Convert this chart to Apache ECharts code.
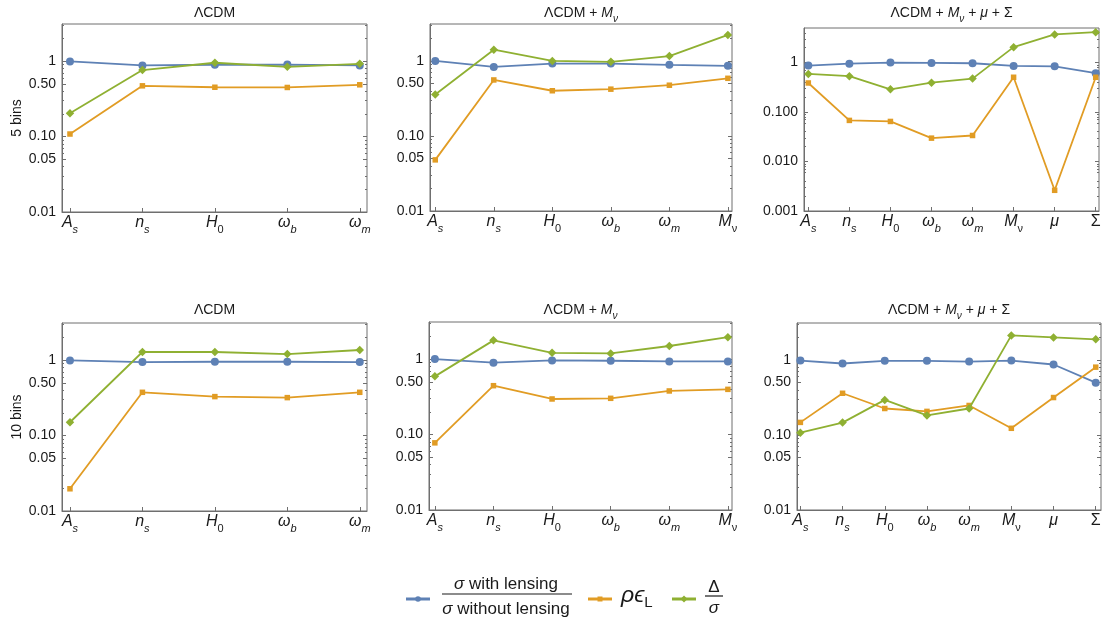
<!DOCTYPE html>
<html>
<head>
<meta charset="utf-8">
<script src="https://cdn.jsdelivr.net/npm/echarts@6/dist/echarts.min.js"></script>
<style>
  html, body { margin: 0; padding: 0; background: #ffffff; }
  #chart { width: 1107px; height: 624px; }
</style>
</head>
<body>
<div id="chart"></div>
<script>
// Parameters on the x axes of each model
const paramsLCDM = ['A_s', 'n_s', 'H_0', 'ω_b', 'ω_m'];
const paramsMnu  = ['A_s', 'n_s', 'H_0', 'ω_b', 'ω_m', 'M_ν'];
const paramsFull = ['A_s', 'n_s', 'H_0', 'ω_b', 'ω_m', 'M_ν', 'μ', 'Σ'];

// Y tick values and their printed labels
const yTicksTwoDec = [0.01, 0.05, 0.1, 0.5, 1];
const yTextTwoDec  = ['0.01', '0.05', '0.10', '0.50', '1'];
const yTicksThreeDec = [0.001, 0.01, 0.1, 1];
const yTextThreeDec  = ['0.001', '0.010', '0.100', '1'];

// 5 bins: sigma ratio (with / without lensing), rho*eps_L, Delta/sigma
const ratio5LCDM  = [0.99, 0.876, 0.894, 0.90, 0.876];
const rhoEps5LCDM = [0.108, 0.47, 0.45, 0.447, 0.485];
const delta5LCDM  = [0.204, 0.76, 0.95, 0.84, 0.92];

const ratio5Mnu  = [1.0, 0.83, 0.92, 0.92, 0.885, 0.86];
const rhoEps5Mnu = [0.048, 0.557, 0.40, 0.42, 0.474, 0.586];
const delta5Mnu  = [0.357, 1.41, 1.0, 0.97, 1.16, 2.22];

const ratio5Full  = [0.87, 0.95, 1.0, 0.985, 0.97, 0.855, 0.84, 0.61];
const rhoEps5Full = [0.387, 0.0678, 0.0646, 0.0297, 0.0336, 0.505, 0.00262, 0.505];
const delta5Full  = [0.589, 0.53, 0.288, 0.393, 0.474, 2.05, 3.70, 4.12];

// 10 bins
const ratio10LCDM  = [0.99, 0.94, 0.95, 0.95, 0.94];
const rhoEps10LCDM = [0.0197, 0.374, 0.328, 0.318, 0.374];
const delta10LCDM  = [0.15, 1.28, 1.28, 1.2, 1.36];

const ratio10Mnu  = [1.0, 0.895, 0.96, 0.95, 0.93, 0.93];
const rhoEps10Mnu = [0.0776, 0.444, 0.296, 0.302, 0.378, 0.397];
const delta10Mnu  = [0.59, 1.77, 1.21, 1.19, 1.49, 1.95];

const ratio10Full  = [0.98, 0.895, 0.97, 0.97, 0.95, 0.98, 0.868, 0.497];
const rhoEps10Full = [0.147, 0.359, 0.225, 0.206, 0.247, 0.1226, 0.315, 0.80];
const delta10Full  = [0.107, 0.146, 0.293, 0.182, 0.225, 2.12, 1.99, 1.88];

const rowNames = ['5 bins', '10 bins'];

// ---- styling ----
const FONT = '"Liberation Sans", Arial, sans-serif';
const BLUE = '#5E81B5', ORANGE = '#E19C24', GREEN = '#8FB032';
const FRAME = '#6f6f6f';
const TEXT = '#1a1a1a';

// rich-text markup for parameter names
const paramMarkup = {
  'A_s': '{i|A}{si|s}', 'n_s': '{i|n}{si|s}', 'H_0': '{i|H}{s|0}',
  'ω_b': '{i|ω}{si|b}', 'ω_m': '{i|ω}{si|m}', 'M_ν': '{i|M}{s|ν}',
  'μ': '{i|μ}', 'Σ': '{n|Σ}'
};
const labelRich = {
  i:  { fontFamily: FONT, fontStyle: 'italic', fontSize: 16, lineHeight: 20, verticalAlign: 'top', color: TEXT },
  n:  { fontFamily: FONT, fontSize: 16, lineHeight: 20, verticalAlign: 'top', color: TEXT },
  si: { fontFamily: FONT, fontStyle: 'italic', fontSize: 11, lineHeight: 9, verticalAlign: 'bottom', color: TEXT },
  s:  { fontFamily: FONT, fontSize: 11, lineHeight: 9, verticalAlign: 'bottom', color: TEXT }
};

const titleMarkup = [
  '{n|ΛCDM}',
  '{n|ΛCDM + }{i|M}{si|ν}',
  '{n|ΛCDM + }{i|M}{si|ν}{n| + }{i|μ}{n| + Σ}'
];
const titleRich = {
  i:  { fontFamily: FONT, fontStyle: 'italic', fontSize: 14, lineHeight: 18, verticalAlign: 'top', fill: TEXT },
  n:  { fontFamily: FONT, fontSize: 14, lineHeight: 18, verticalAlign: 'top', fill: TEXT },
  si: { fontFamily: FONT, fontStyle: 'italic', fontSize: 10, lineHeight: 8, verticalAlign: 'bottom', fill: TEXT }
};

// panel frames (pixel boxes) and x padding in category units
const panels = [
  { box: [62, 24, 367, 212],  pad: [0.11, 0.10], params: paramsLCDM, yr: [0.01, 3.1], ticks: 'two',   data: [ratio5LCDM, rhoEps5LCDM, delta5LCDM],   title: 0, row: 0, ty: 6 },
  { box: [430, 24, 732, 211], pad: [0.09, 0.07], params: paramsMnu,  yr: [0.01, 3.1], ticks: 'two',   data: [ratio5Mnu, rhoEps5Mnu, delta5Mnu],      title: 1, row: -1, ty: 6 },
  { box: [804, 28, 1099, 211], pad: [0.105, 0.08], params: paramsFull, yr: [0.001, 5], ticks: 'three', data: [ratio5Full, rhoEps5Full, delta5Full],  title: 2, row: -1, ty: 6 },
  { box: [62, 323, 367, 511], pad: [0.11, 0.10], params: paramsLCDM, yr: [0.01, 3.1], ticks: 'two',   data: [ratio10LCDM, rhoEps10LCDM, delta10LCDM], title: 0, row: 1, ty: 303 },
  { box: [429, 322, 732, 510], pad: [0.10, 0.07], params: paramsMnu,  yr: [0.01, 3.1], ticks: 'two',   data: [ratio10Mnu, rhoEps10Mnu, delta10Mnu],    title: 1, row: -1, ty: 303 },
  { box: [797, 323, 1101, 510], pad: [0.08, 0.125], params: paramsFull, yr: [0.01, 3.1], ticks: 'two', data: [ratio10Full, rhoEps10Full, delta10Full], title: 2, row: -1, ty: 303 }
];

function minorTicks(lo, hi) {
  const out = [];
  for (let e = -4; e <= 1; e++) {
    for (let m = 2; m <= 9; m++) {
      const v = m * Math.pow(10, e);
      if (v > lo * 1.0001 && v < hi * 0.9999 && m !== 5) out.push(v);
    }
  }
  return out;
}

const grids = [], xAxes = [], yAxes = [], series = [], graphics = [];
const colors = [BLUE, ORANGE, GREEN];
const symbols = ['circle', 'rect', 'diamond'];
const symbolSizes = [8, 5.5, 8.5];

panels.forEach((p, gi) => {
  const [x0, y0, x1, y1] = p.box;
  grids.push({ left: x0, top: y0, width: x1 - x0, height: y1 - y0,
               show: true, borderColor: FRAME, borderWidth: 1, backgroundColor: 'transparent' });
  const n = p.params.length;
  const idx = p.params.map((_, k) => k);
  xAxes.push({
    type: 'value', gridIndex: gi, min: -p.pad[0], max: n - 1 + p.pad[1], position: 'bottom',
    axisLine: { show: true, onZero: false, lineStyle: { color: FRAME, width: 1 } },
    splitLine: { show: false },
    axisTick: { show: true, inside: true, length: 4, customValues: idx, lineStyle: { color: FRAME } },
    axisLabel: { show: true, customValues: idx, margin: 3, rich: labelRich,
                 formatter: v => paramMarkup[p.params[Math.round(v)]] || '' }
  });

  const tickVals = p.ticks === 'two' ? yTicksTwoDec : yTicksThreeDec;
  const tickText = p.ticks === 'two' ? yTextTwoDec : yTextThreeDec;
  const minors = minorTicks(p.yr[0], p.yr[1]);
  const base = { type: 'log', logBase: 10, gridIndex: gi, min: p.yr[0], max: p.yr[1],
                 splitLine: { show: false }, axisLine: { show: false, onZero: false } };
  const mainIdx = yAxes.length;
  yAxes.push(Object.assign({}, base, {
    position: 'left',
    axisLine: { show: true, onZero: false, lineStyle: { color: FRAME, width: 1 } },
    axisTick: { show: true, inside: true, length: 4, customValues: tickVals, lineStyle: { color: FRAME } },
    axisLabel: { show: true, customValues: tickVals, margin: 6, fontFamily: FONT, fontSize: 14, color: TEXT,
                 formatter: v => {
                   let best = 0;
                   tickVals.forEach((t, k) => { if (Math.abs(Math.log10(t / v)) < Math.abs(Math.log10(tickVals[best] / v))) best = k; });
                   return tickText[best];
                 } },
    name: p.row >= 0 ? rowNames[p.row] : '',
    nameLocation: 'middle', nameGap: 38, nameRotate: 90,
    nameTextStyle: { fontFamily: FONT, fontSize: 14, color: TEXT }
  }));
  yAxes.push(Object.assign({}, base, {
    position: 'left', axisLabel: { show: false },
    axisTick: { show: true, inside: true, length: 2, customValues: minors, lineStyle: { color: FRAME } }
  }));
  yAxes.push(Object.assign({}, base, {
    position: 'right', axisLabel: { show: false },
    axisTick: { show: true, inside: true, length: 4, customValues: tickVals, lineStyle: { color: FRAME } }
  }));
  yAxes.push(Object.assign({}, base, {
    position: 'right', axisLabel: { show: false },
    axisTick: { show: true, inside: true, length: 2, customValues: minors, lineStyle: { color: FRAME } }
  }));

  p.data.forEach((vals, si) => {
    series.push({
      type: 'line', xAxisIndex: gi, yAxisIndex: mainIdx,
      data: vals.map((v, k) => [k, v]),
      symbol: symbols[si], symbolSize: symbolSizes[si], showSymbol: true,
      lineStyle: { color: colors[si], width: 1.8 },
      itemStyle: { color: colors[si] },
      z: 3 + si, animation: false, silent: true
    });
  });

  graphics.push({
    type: 'text', x: (x0 + x1) / 2, y: p.ty,
    style: { text: titleMarkup[p.title], rich: titleRich, align: 'center', verticalAlign: 'top' }
  });
});

// legend drawn at the bottom
const legendY = 599;
function legendKey(xa, xb, color, shape) {
  graphics.push({ type: 'line', shape: { x1: xa, y1: legendY, x2: xb, y2: legendY },
                  style: { stroke: color, lineWidth: 3 } });
  const cx = (xa + xb) / 2;
  if (shape === 'circle') graphics.push({ type: 'circle', shape: { cx, cy: legendY, r: 2.8 }, style: { fill: color } });
  if (shape === 'rect') graphics.push({ type: 'rect', shape: { x: cx - 2.5, y: legendY - 2.5, width: 5, height: 5 }, style: { fill: color } });
  if (shape === 'diamond') graphics.push({ type: 'polygon', shape: { points: [[cx, legendY - 3.5], [cx + 3.5, legendY], [cx, legendY + 3.5], [cx - 3.5, legendY]] }, style: { fill: color } });
}
legendKey(406, 430, BLUE, 'circle');
legendKey(588, 612, ORANGE, 'rect');
legendKey(672, 696, GREEN, 'diamond');

const legRich = {
  g: { fontFamily: FONT, fontStyle: 'italic', fontSize: 17, fill: TEXT },
  t: { fontFamily: FONT, fontSize: 17, fill: TEXT }
};
graphics.push({ type: 'text', x: 506, y: 584, style: { text: '{g|σ}{t| with lensing}', rich: legRich, align: 'center', verticalAlign: 'middle' } });
graphics.push({ type: 'line', shape: { x1: 442, y1: 594, x2: 572, y2: 594 }, style: { stroke: TEXT, lineWidth: 1.2 } });
graphics.push({ type: 'text', x: 506, y: 609, style: { text: '{g|σ}{t| without lensing}', rich: legRich, align: 'center', verticalAlign: 'middle' } });

graphics.push({ type: 'text', x: 621, y: 597, style: {
  text: '{g|ρϵ}{s|L}', align: 'left', verticalAlign: 'middle',
  rich: {
    g: { fontFamily: FONT, fontStyle: 'italic', fontSize: 23, lineHeight: 26, verticalAlign: 'top', fill: TEXT },
    s: { fontFamily: FONT, fontSize: 15, lineHeight: 14, verticalAlign: 'bottom', fill: TEXT }
  } } });

graphics.push({ type: 'text', x: 714, y: 587, style: { text: 'Δ', fontFamily: FONT, fontSize: 17, fill: TEXT, align: 'center', verticalAlign: 'middle' } });
graphics.push({ type: 'line', shape: { x1: 705, y1: 596, x2: 723, y2: 596 }, style: { stroke: TEXT, lineWidth: 1.2 } });
graphics.push({ type: 'text', x: 714, y: 608, style: { text: 'σ', fontFamily: FONT, fontStyle: 'italic', fontSize: 17, fill: TEXT, align: 'center', verticalAlign: 'middle' } });

const chart = echarts.init(document.getElementById('chart'), null, { renderer: 'canvas' });
chart.setOption({
  animation: false,
  backgroundColor: '#ffffff',
  grid: grids,
  xAxis: xAxes,
  yAxis: yAxes,
  series: series,
  graphic: graphics
});
</script>
</body>
</html>
